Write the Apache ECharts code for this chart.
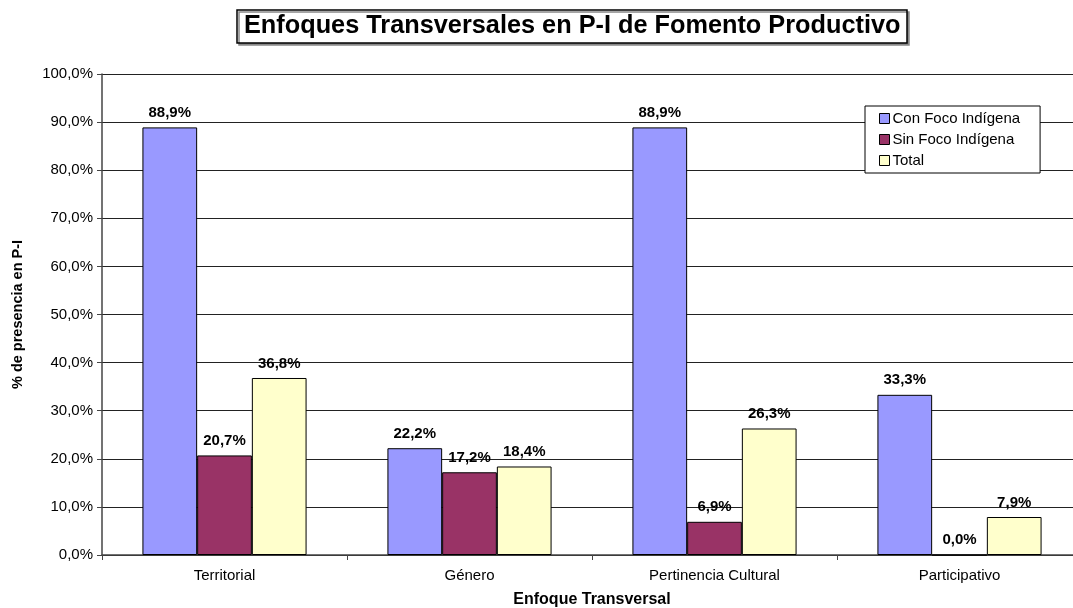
<!DOCTYPE html>
<html>
<head>
<meta charset="utf-8">
<script src="https://cdn.jsdelivr.net/npm/echarts@6/dist/echarts.min.js"></script>
<style>
  html, body { margin: 0; padding: 0; background: #fff; }
  #chart { width: 1073px; height: 608px; }
</style>
</head>
<body>
<div id="chart"></div>
<script>
// datos
var categorias = ['Territorial', 'Género', 'Pertinencia Cultural', 'Participativo']
var conFoco = [88.9, 22.2, 88.9, 33.3]
var sinFoco = [20.7, 17.2, 6.9, 0.0]
var total = [36.8, 18.4, 26.3, 7.9]

var fontFam = 'Liberation Sans, Arial, sans-serif'

function pct(v) {
  return v.toFixed(1).replace('.', ',') + '%'
}

function serie(name, data, color) {
  return {
    name: name,
    type: 'bar',
    data: data,
    barGap: '0%',
    barCategoryGap: '33%',
    itemStyle: { color: color, borderColor: '#000', borderWidth: 1 },
    label: {
      show: true,
      position: 'top',
      distance: 7,
      fontFamily: fontFam,
      fontWeight: 'bold',
      fontSize: 15,
      color: '#000',
      formatter: function (p) { return pct(p.value) }
    }
  }
}

var chart = echarts.init(document.getElementById('chart'))
var option = {
  animation: false,
  backgroundColor: '#fff',
  title: {
    text: 'Enfoques Transversales en P-I de Fomento Productivo',
    left: 237,
    top: 10,
    padding: [4, 7, 4, 7],
    borderColor: '#000',
    borderWidth: 1.5,
    backgroundColor: '#fff',
    shadowColor: '#888',
    shadowOffsetX: 2,
    shadowOffsetY: 2,
    shadowBlur: 0,
    textStyle: { fontFamily: fontFam, fontWeight: 'bold', fontSize: 25.3, color: '#000' }
  },
  legend: {
    orient: 'vertical',
    left: 865,
    top: 106,
    padding: [5, 20, 5, 14],
    itemGap: 6,
    itemWidth: 10,
    itemHeight: 10,
    borderColor: '#000',
    borderWidth: 1,
    backgroundColor: '#fff',
    icon: 'rect',
    itemStyle: { borderColor: '#000', borderWidth: 1 },
    textStyle: { fontFamily: fontFam, fontSize: 15, color: '#000', padding: [0, 0, 0, -2] },
    data: ['Con Foco Indígena', 'Sin Foco Indígena', 'Total']
  },
  grid: { left: 102, right: -9, top: 74, bottom: 53, containLabel: false, outerBoundsMode: 'none' },
  xAxis: {
    type: 'category',
    data: categorias,
    name: 'Enfoque Transversal',
    nameLocation: 'middle',
    nameGap: 37,
    nameTextStyle: { fontFamily: fontFam, fontWeight: 'bold', fontSize: 16, color: '#000' },
    axisLine: { lineStyle: { color: '#444', width: 1.5 } },
    axisTick: { show: true, length: 5, lineStyle: { color: '#444' } },
    axisLabel: { fontFamily: fontFam, fontSize: 15, color: '#000', margin: 13 }
  },
  yAxis: {
    type: 'value',
    min: 0,
    max: 100,
    interval: 10,
    name: '% de presencia en P-I',
    nameLocation: 'middle',
    nameGap: 77,
    nameTextStyle: { fontFamily: fontFam, fontWeight: 'bold', fontSize: 14.5, color: '#000' },
    axisLine: { show: true, lineStyle: { color: '#444', width: 1.5 } },
    axisTick: { show: true, length: 5, lineStyle: { color: '#444' } },
    axisLabel: {
      fontFamily: fontFam, fontSize: 15, color: '#000', margin: 9,
      formatter: function (v) { return pct(v) }
    },
    splitLine: { lineStyle: { color: '#222', width: 1 } }
  },
  series: [
    serie('Con Foco Indígena', conFoco, '#9999ff'),
    serie('Sin Foco Indígena', sinFoco, '#993366'),
    serie('Total', total, '#ffffcc')
  ]
}
chart.setOption(option)
</script>
</body>
</html>
